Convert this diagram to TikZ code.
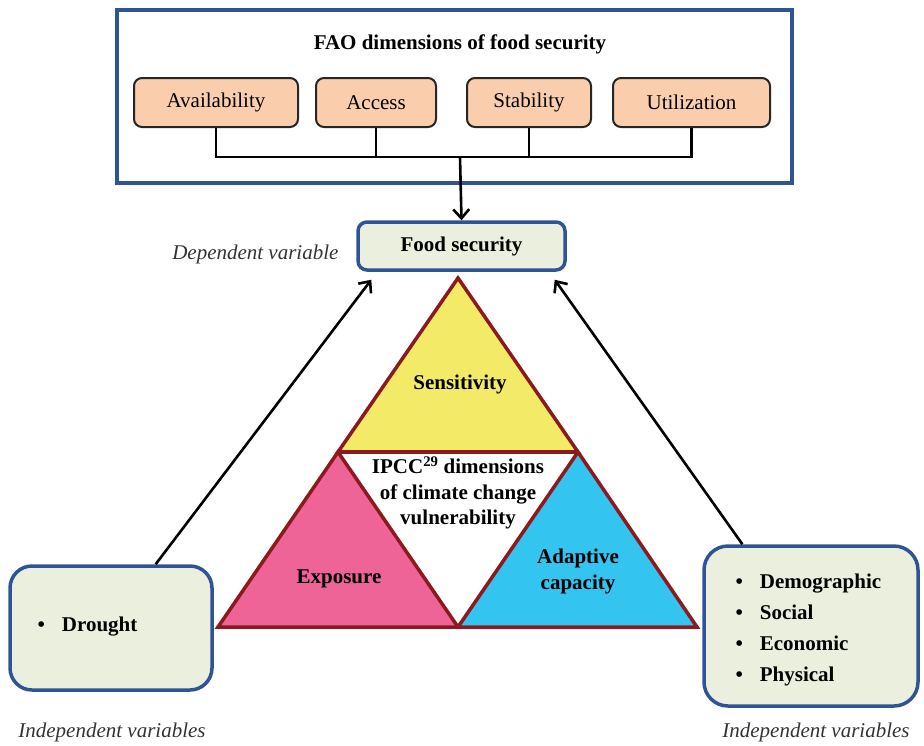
\documentclass[tikz,border=0pt]{standalone}
\usepackage{fontspec}
\setmainfont{Liberation Serif}
\usepackage{xcolor}
\usepackage{tikz}
\usetikzlibrary{arrows.meta,positioning,calc}
\definecolor{faoblue}{RGB}{47,84,150}
\definecolor{peach}{RGB}{250,206,172}
\definecolor{palegreen}{RGB}{235,240,222}
\definecolor{triborder}{RGB}{140,25,30}
\definecolor{sensyellow}{RGB}{243,235,104}
\definecolor{exppink}{RGB}{238,100,150}
\definecolor{adacyan}{RGB}{52,196,240}
\tikzset{
  % 字体
  every node/.append style={font=\fontsize{21}{26}\selectfont},
  % FAO 维度盒子
  dimbox/.style={
    draw=black!85,
    line width=2pt,
    rounded corners=8pt,
    fill=peach,
    minimum height=49pt,
    inner sep=0pt
  },
  % 变量盒子
  varbox/.style={
    draw=faoblue,
    line width=3.5pt,
    fill=palegreen,
    inner sep=0pt
  },
  % 三角形
  tri/.style={draw=triborder, line width=3.5pt, line join=miter},
  % 连线与箭头
  line/.style={line width=2.6pt, black},
  arr/.style={-{Straight Barb[length=9pt,width=16pt,line width=2.6pt]}, line width=2.6pt, black},
  varlab/.style={font=\fontsize{21}{26}\selectfont\itshape, text=black!80},
}
\begin{document}
\begin{tikzpicture}[x=1pt,y=-1pt]
        \useasboundingbox (0,0) rectangle (924,745);

        % FAO 外框
        \node[draw=faoblue, line width=3.5pt, minimum width=675pt, minimum height=173pt, inner sep=0pt] (fao) at (454.5,96.5) {};
        \node[font=\fontsize{21}{26}\selectfont\bfseries] (faotitle) at (460,44) {FAO dimensions of food security};

        % 四个维度
        \node[dimbox, minimum width=164pt] (avail) at (216,102.5) {\raisebox{-2pt}{Availability}};
        \node[dimbox, minimum width=120pt] (access) at (376,102.5) {\raisebox{-2pt}{Access}};
        \node[dimbox, minimum width=124pt] (stab) at (529,102.5) {\raisebox{-2pt}{Stability}};
        \node[dimbox, minimum width=157pt] (util) at (691.5,102.5) {\raisebox{-2pt}{Utilization}};

        % 汇总线
        \coordinate (bar) at (460,157);
        \draw[line] (avail.south) |- (bar) -| (util.south);
        \draw[line] (access.south) -- (access.south |- bar);
        \draw[line] (stab.south) -- (stab.south |- bar);

        % 因变量
        \node[varbox, rounded corners=9pt, minimum width=207pt, minimum height=48pt, font=\fontsize{21}{26}\selectfont\bfseries] (fs) at (461.5,246) {\raisebox{-2pt}{Food security}};
        \node[varlab, anchor=east] (deplab) at (342,254) {Dependent variable};
        \draw[arr] (bar) -- (fs.north);

        % IPCC 三角形
        \coordinate (apex) at (458,278);
        \coordinate (lm) at (338,452);
        \coordinate (rm) at (578,452);
        \coordinate (bl) at (218,627);
        \coordinate (bm) at (458,627);
        \coordinate (br) at (697,627);
        \draw[tri, fill=sensyellow] (apex) -- (rm) -- (lm) -- cycle;
        \draw[tri, fill=exppink] (lm) -- (bm) -- (bl) -- cycle;
        \draw[tri, fill=adacyan] (rm) -- (br) -- (bm) -- cycle;
        \draw[tri] (lm) -- (rm);

        \node[font=\fontsize{21}{26}\selectfont\bfseries] (sens) at (460,384) {Sensitivity};
        \node[font=\fontsize{21}{25.5}\selectfont\bfseries, align=center] (ipcc) at (458,493) {IPCC\textsuperscript{29} dimensions\\of climate change\\vulnerability};
        \node[font=\fontsize{21}{26}\selectfont\bfseries] (expo) at (339,579) {Exposure};
        \node[font=\fontsize{21}{26}\selectfont\bfseries, align=center] (adapt) at (578,571) {Adaptive\\capacity};

        % 自变量
        \node[varbox, rounded corners=22pt, minimum width=202pt, minimum height=124pt] (drought) at (111,628) {};
        \node[anchor=west, font=\fontsize{21}{26}\selectfont\bfseries] (droughttxt) at (34,627) {\textbullet\hspace{17pt}Drought};
        \node[varbox, rounded corners=24pt, minimum width=214pt, minimum height=160pt] (socio) at (811,626) {};
        \node[anchor=west, align=left, font=\fontsize{21}{31}\selectfont\bfseries] (sociotxt) at (732,630) {\textbullet\hspace{17pt}Demographic\\\textbullet\hspace{17pt}Social\\\textbullet\hspace{17pt}Economic\\\textbullet\hspace{17pt}Physical};

        \draw[arr] (drought.55) -- ([xshift=15pt,yshift=-8pt]fs.south west);
        \draw[arr] (socio.130) -- ([xshift=-12pt,yshift=-8pt]fs.south east);

        \node[varlab] (indlab1) at (112,732) {Independent variables};
        \node[varlab] (indlab2) at (816,732) {Independent variables};
    \end{tikzpicture}
\end{document}
